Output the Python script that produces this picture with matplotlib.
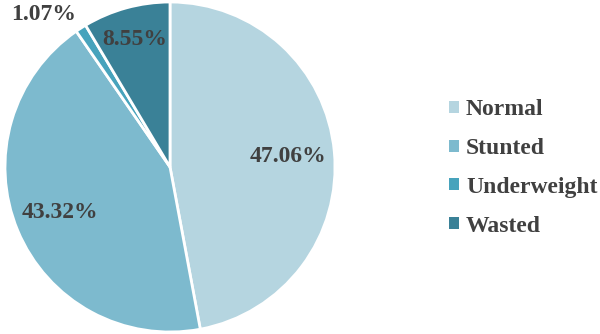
import matplotlib
matplotlib.use("Agg")
import matplotlib.pyplot as plt
import numpy as np

labels = ["Normal", "Stunted", "Underweight", "Wasted"]
values = [47.06, 43.32, 1.07, 8.55]
colors = ["#B5D5E0", "#7DBACE", "#47A3BC", "#3A8197"]
text_color = "#404040"

plt.rcParams["font.family"] = ["Liberation Serif", "DejaVu Serif"]

fig = plt.figure(figsize=(6.0, 3.34), dpi=100)
ax = fig.add_axes([5 / 600, 2 / 334, 330 / 600, 330 / 334])

wedges, texts, autotexts = ax.pie(
    values,
    colors=colors,
    startangle=90,
    counterclock=False,
    autopct="%.2f%%",
    pctdistance=0.72,
    wedgeprops=dict(edgecolor="white", linewidth=2),
    textprops=dict(fontsize=17, fontweight="bold", color=text_color),
)

# tweak the small slices' labels
for w, t, v in zip(wedges, autotexts, values):
    mid = np.deg2rad((w.theta1 + w.theta2) / 2)
    if v < 2:
        r, ang = 1.2, mid + np.deg2rad(7)
        t.set_position((r * np.cos(ang), r * np.sin(ang)))
    elif v < 10:
        t.set_position((0.8 * np.cos(mid), 0.8 * np.sin(mid)))

ax.set_xlim(-1, 1)
ax.set_ylim(-1, 1)
ax.set_aspect("equal")

leg = fig.legend(
    wedges, labels,
    loc="center left",
    bbox_to_anchor=(440 / 600, 166 / 334),
    frameon=False,
    handlelength=0.4,
    handleheight=0.4,
    handletextpad=0.3,
    labelspacing=0.75,
    borderaxespad=0,
    prop=dict(size=17, weight="bold"),
)
for txt in leg.get_texts():
    txt.set_color(text_color)
for h in leg.legend_handles:
    h.set_edgecolor("none")

fig.savefig("out.png", dpi=100)
